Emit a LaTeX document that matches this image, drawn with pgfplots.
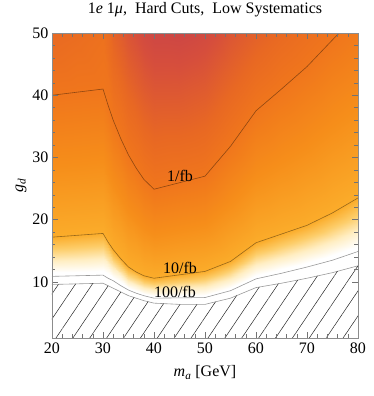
\documentclass[border=0pt]{standalone}
\usepackage{fontspec}
\setmainfont{Liberation Serif}
\usepackage{pgfplots}
\usepackage{pgfplotstable}
\pgfplotsset{compat=1.18}
\usetikzlibrary{patterns.meta}

\newcommand{\figfont}{\fontsize{16bp}{19bp}\selectfont}

% contour heights: hatch edge, 100/fb, 10/fb, 1/fb
\pgfplotstableread{
x  yb   y2    y1    y0
20 9.6  10.9  17.2  40.0
25 9.7  11.0  17.5  40.5
30 9.8  11.1  17.8  41.0
31 9.4  10.6  16.4  38.4
32 9.0  10.2  15.2  36.0
33.5 8.4 9.4  13.7  33.0
35 7.8  8.7   12.4  30.4
36.5 7.4 8.2  11.6  28.3
38 7.0  7.8   11.0  26.5
40 6.6  7.4   10.6  24.9
45 6.4  7.45  11.15 25.95
50 6.4  7.5   11.7  27.0
55 7.4  8.6   13.3  31.8
60 9.1  10.5  16.3  37.5
65 9.8  11.4  17.7  41.0
70 10.6 12.4  19.1  44.6
75 11.5 13.5  21.1  48.9
80 12.6 14.9  23.5  53.1
}\contours

\pgfplotsset{
  colormap={sunset}{
    rgb255(0pt)=(195,62,78)
    rgb255(3pt)=(214,78,60)
    rgb255(6pt)=(232,104,35)
    rgb255(8pt)=(240,118,28)
    rgb255(13pt)=(246,142,26)
    rgb255(18pt)=(251,172,42)
    rgb255(21pt)=(253,205,105)
    rgb255(24pt)=(255,238,195)
    rgb255(27pt)=(255,255,255)
    rgb255(30pt)=(255,255,255)
  },
  cline/.style={draw=black, draw opacity=0.4, line width=0.6pt, mark=none},
}

\begin{document}
\begin{tikzpicture}
\begin{axis}[
  at={(0,0)}, anchor=south west,
  scale only axis,
  width=306bp, height=305bp,
  xmin=20, xmax=80, ymin=1, ymax=50,
  xtick={20,30,...,80}, ytick={10,20,...,50},
  minor x tick num=4, minor y tick num=4,
  tick align=inside,
  major tick length=6bp, minor tick length=3.5bp,
  axis on top,
  axis line style={draw=black!45},
  tick style={draw=black!55, line width=0.5pt},
  /pgf/number format/assume math mode=true,
  tick label style={font=\figfont},
  xticklabel style={yshift=-1bp},
  title={1\textit{e} 1\textit{μ},\ \ Hard Cuts,\ \ Low Systematics},
  title style={font=\figfont, anchor=base, at={(axis description cs:0.5,1)}, yshift=13.5bp},
  xlabel={\textit{m}\textsubscript{\textit{a}} [GeV]},
  xlabel style={font=\figfont, anchor=base, at={(axis description cs:0.5,0)}, yshift=-38.5bp},
  ylabel={\textit{g}\textsubscript{\textit{d}}},
  ylabel style={font=\figfont, anchor=center, at={(axis description cs:-0.1013,0.5)}},
  colormap name=sunset,
  point meta min=-0.8, point meta max=2.2,
]

% coloured field, mesh rows follow the contours
\addplot[surf, shader=interp, mesh/cols=8, point meta=explicit]
table[x=x, y=y, meta=z] {
x y z
20 9.6 2.2
20 10.9 2.0
20 14.05 1.5
20 17.2 1.0
20 28.6 0.5
20 40.0 0
20 48.0 -0.15
20 56 -0.3

25 9.7 2.2
25 11.0 2.0
25 14.25 1.5
25 17.5 1.0
25 29.0 0.5
25 40.5 0
25 48.25 -0.11
25 56 -0.22

30 9.8 2.2
30 11.1 2.0
30 14.45 1.5
30 17.8 1.0
30 29.4 0.5
30 41.0 0
30 48.5 -0.06
30 56 -0.12

32 9.0 2.2
32 10.2 2.0
32 12.7 1.5
32 15.2 1.0
32 25.6 0.5
32 36.0 0
32 46.0 -0.18
32 56 -0.36

35 7.8 2.2
35 8.7 2.0
35 10.55 1.5
35 12.4 1.0
35 21.4 0.5
35 30.4 0
35 43.2 -0.28
35 56 -0.56

38 7.0 2.2
38 7.8 2.0
38 9.4 1.5
38 11.0 1.0
38 18.75 0.5
38 26.5 0
38 41.25 -0.36
38 56 -0.72

40 6.6 2.2
40 7.4 2.0
40 9.0 1.5
40 10.6 1.0
40 17.75 0.5
40 24.9 0
40 40.45 -0.39
40 56 -0.78

45 6.4 2.2
45 7.45 2.0
45 9.3 1.5
45 11.15 1.0
45 18.55 0.5
45 25.95 0
45 40.98 -0.4
45 56 -0.8

50 6.4 2.2
50 7.5 2.0
50 9.6 1.5
50 11.7 1.0
50 19.35 0.5
50 27.0 0
50 41.5 -0.36
50 56 -0.72

55 7.4 2.2
55 8.6 2.0
55 10.95 1.5
55 13.3 1.0
55 22.55 0.5
55 31.8 0
55 43.9 -0.28
55 56 -0.55

60 9.1 2.2
60 10.5 2.0
60 13.4 1.5
60 16.3 1.0
60 26.9 0.5
60 37.5 0
60 46.75 -0.21
60 56 -0.42

65 9.8 2.2
65 11.4 2.0
65 14.55 1.5
65 17.7 1.0
65 29.35 0.5
65 41.0 0
65 48.5 -0.15
65 56 -0.3

70 10.6 2.2
70 12.4 2.0
70 15.75 1.5
70 19.1 1.0
70 31.85 0.5
70 44.6 0
70 50.3 -0.1
70 56 -0.2

75 11.5 2.2
75 13.5 2.0
75 17.3 1.5
75 21.1 1.0
75 35.0 0.5
75 48.9 0
75 52.45 -0.05
75 56 -0.1

80 12.6 2.2
80 14.9 2.0
80 19.2 1.5
80 23.5 1.0
80 38.3 0.5
80 53.1 0
80 54.55 -0.01
80 56 -0.02
};

% excluded region
\addplot[draw=none, pattern={Lines[angle=56, distance=14bp, line width=0.5pt]},
  pattern color=black!85] table[x=x, y=yb] {\contours} \closedcycle;

% contour lines
\addplot[cline] table[x=x, y=yb] {\contours};
\addplot[cline] table[x=x, y=y2] {\contours};
\addplot[cline] table[x=x, y=y1] {\contours};
\addplot[cline] table[x=x, y=y0] {\contours};

\node[font=\figfont, anchor=base] at (axis cs:45.1,26.1) {1/fb};
\node[font=\figfont, anchor=base] at (axis cs:45.1,11.4) {10/fb};
\node[font=\figfont, anchor=base] at (axis cs:44.1,7.5) {100/fb};

\end{axis}
\pgfresetboundingbox
\path[use as bounding box] (-52bp,-58bp) rectangle (322bp,338bp);
\end{tikzpicture}
\end{document}
